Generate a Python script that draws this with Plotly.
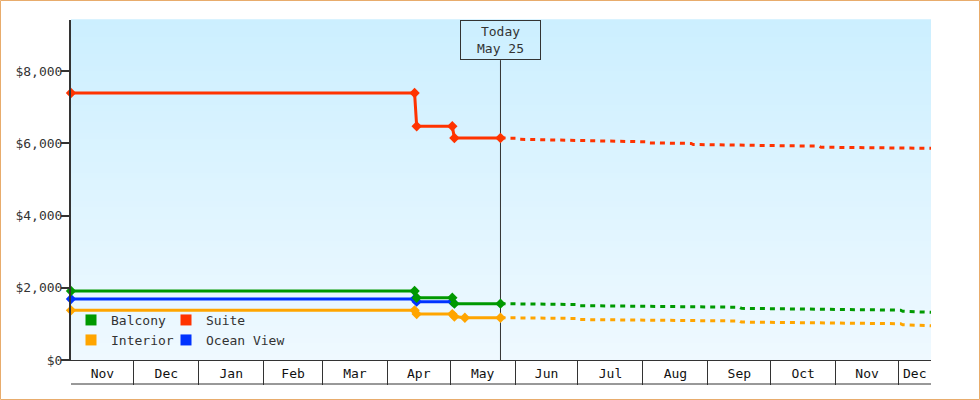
import pandas as pd
import plotly.graph_objects as go

# ---------------- data ----------------
months = ["Nov", "Dec", "Jan", "Feb", "Mar", "Apr", "May",
          "Jun", "Jul", "Aug", "Sep", "Oct", "Nov", "Dec"]
month_starts = ["2024-11-01", "2024-12-01", "2025-01-01", "2025-02-01",
                "2025-03-01", "2025-04-01", "2025-05-01", "2025-06-01",
                "2025-07-01", "2025-08-01", "2025-09-01", "2025-10-01",
                "2025-11-01", "2025-12-01"]
x_start = "2024-11-01"
x_end = "2025-12-16 12:00"
today = "2025-05-25"

y_ticks = [0, 2000, 4000, 6000, 8000]
y_tick_labels = ["$0", "$2,000", "$4,000", "$6,000", "$8,000"]

balcony_dates = ["2024-11-01", "2025-04-14", "2025-04-15", "2025-05-02", "2025-05-03", "2025-05-25"]
balcony_vals = [1910, 1910, 1725, 1725, 1560, 1560]
balcony_fc_dates = ["2025-05-25", "2025-07-01", "2025-07-02", "2025-09-16", "2025-09-17",
                    "2025-12-02", "2025-12-03", "2025-12-16 12:00"]
balcony_fc_vals = [1560, 1535, 1505, 1460, 1430, 1380, 1350, 1320]

suite_dates = ["2024-11-01", "2025-04-14", "2025-04-15", "2025-05-02", "2025-05-03", "2025-05-25"]
suite_vals = [7390, 7390, 6470, 6470, 6145, 6145]
suite_fc_dates = ["2025-05-25", "2025-06-02", "2025-06-03", "2025-08-03", "2025-08-04",
                  "2025-08-24", "2025-08-25", "2025-10-24", "2025-10-25", "2025-12-16 12:00"]
suite_fc_vals = [6145, 6140, 6110, 6040, 6010, 5995, 5965, 5920, 5890, 5860]

interior_dates = ["2024-11-01", "2025-04-14", "2025-04-15", "2025-05-02", "2025-05-03",
                  "2025-05-08", "2025-05-25"]
interior_vals = [1375, 1375, 1270, 1270, 1205, 1170, 1170]
interior_fc_dates = ["2025-05-25", "2025-07-01", "2025-07-02", "2025-09-16", "2025-09-17",
                     "2025-12-02", "2025-12-03", "2025-12-16 12:00"]
interior_fc_vals = [1170, 1150, 1120, 1080, 1050, 1005, 975, 950]

ocean_dates = ["2024-11-01", "2025-04-14", "2025-04-15", "2025-05-02"]
ocean_vals = [1690, 1690, 1615, 1615]

GREEN = "#009900"
RED = "#ff3300"
ORANGE = "#ffa500"
BLUE = "#0033ff"
INK = "#333333"
FONT = "DejaVu Sans Mono"

# ---------------- figure ----------------
fig = go.Figure()


def hist(dates, vals, color, name):
    fig.add_trace(go.Scatter(
        x=dates, y=vals, mode="lines+markers", name=name, showlegend=False,
        line=dict(color=color, width=3), cliponaxis=False,
        marker=dict(symbol="diamond", size=8, color=color),
        hoverinfo="x+y"))


def fc(dates, vals, color, name):
    fig.add_trace(go.Scatter(
        x=dates, y=vals, mode="lines", name=name + " forecast", showlegend=False,
        line=dict(color=color, width=3, dash="5px,5px"), hoverinfo="x+y"))


fc(suite_fc_dates, suite_fc_vals, RED, "Suite")
fc(balcony_fc_dates, balcony_fc_vals, GREEN, "Balcony")
fc(interior_fc_dates, interior_fc_vals, ORANGE, "Interior")
hist(suite_dates, suite_vals, RED, "Suite")
hist(interior_dates, interior_vals, ORANGE, "Interior")
hist(ocean_dates, ocean_vals, BLUE, "Ocean View")
hist(balcony_dates, balcony_vals, GREEN, "Balcony")

# legend entries (square swatches), one legend per entry for a 2x2 grid
legend_items = [("Balcony", GREEN, "legend"), ("Suite", RED, "legend2"),
                ("Interior", ORANGE, "legend3"), ("Ocean View", BLUE, "legend4")]
for name, color, lg in legend_items:
    fig.add_trace(go.Scatter(
        x=[None], y=[None], mode="markers", name=name, legend=lg,
        marker=dict(symbol="square", size=11, color=color)))

# background gradient bands
top = (204, 239, 255)
bot = (239, 249, 255)
n = 60
shapes = []
for i in range(n):
    t = (i + 0.5) / n
    c = tuple(round(bot[k] + (top[k] - bot[k]) * t) for k in range(3))
    shapes.append(dict(type="rect", xref="paper", yref="paper", x0=0, x1=1,
                       y0=i / n, y1=(i + 1) / n + 0.002, layer="below",
                       line=dict(width=0), fillcolor="rgb(%d,%d,%d)" % c))

# today line
shapes.append(dict(type="line", xref="x", yref="paper", x0=today, x1=today,
                   y0=0, y1=0.882, layer="below", line=dict(color=INK, width=1)))
# bottom line of the month band
shapes.append(dict(type="line", xref="paper", yref="paper", x0=0, x1=1,
                   y0=-0.0706, y1=-0.0706, line=dict(color=INK, width=1)))
# outer border
shapes.append(dict(type="rect", xref="paper", yref="paper",
                   x0=(0.5 - 71) / 860, x1=(979.5 - 71) / 860,
                   y0=(360 - 399.5) / 340, y1=(360 - 0.5) / 340,
                   line=dict(color="#e8ac6c", width=1), fillcolor="rgba(0,0,0,0)"))

# month label positions (middle of each visible month)
bounds = [pd.Timestamp(d) for d in month_starts] + [pd.Timestamp(x_end)]
mids = [(bounds[i] + (bounds[i + 1] - bounds[i]) / 2).strftime("%Y-%m-%d %H:%M")
        for i in range(len(month_starts))]

legend_style = dict(xanchor="left", yanchor="middle", orientation="h",
                    bgcolor="rgba(0,0,0,0)", itemclick=False, itemdoubleclick=False,
                    font=dict(family=FONT, size=13, color=INK))
row1 = (360 - 320) / 340
row2 = (360 - 340) / 340
col1 = (71 - 71) / 860
col2 = (166 - 71) / 860

fig.update_layout(
    width=980, height=400,
    margin=dict(l=71, r=49, t=20, b=40),
    paper_bgcolor="white",
    plot_bgcolor="rgb(239,249,255)",
    font=dict(family=FONT, size=13, color=INK),
    shapes=shapes,
    xaxis=dict(
        type="date", range=[x_start, x_end],
        tickmode="array", tickvals=mids, ticktext=months, ticks="",
        ticklabelstandoff=1,
        showline=True, linecolor=INK, linewidth=1,
        showgrid=False, zeroline=False,
        minor=dict(tickmode="array", tickvals=month_starts[1:], ticks="outside",
                   ticklen=24, tickwidth=1, tickcolor=INK, showgrid=False),
        tickfont=dict(family=FONT, size=13, color="#111"),
    ),
    yaxis=dict(
        range=[0, 9412], tickmode="array", tickvals=y_ticks, ticktext=y_tick_labels,
        ticks="outside", ticklen=8, tickwidth=2, tickcolor=INK,
        ticklabelstandoff=-4,
        showline=True, linecolor=INK, linewidth=2,
        showgrid=False, zeroline=False,
        tickfont=dict(family=FONT, size=13, color=INK),
    ),
    legend=dict(x=col1, y=row1, **legend_style),
    legend2=dict(x=col2, y=row1, **legend_style),
    legend3=dict(x=col1, y=row2, **legend_style),
    legend4=dict(x=col2, y=row2, **legend_style),
    annotations=[dict(
        x=today, y=1, xref="x", yref="paper", xanchor="center", yanchor="top",
        text="Today<br>May 25", showarrow=False, width=79, height=38,
        bordercolor=INK, borderwidth=1, borderpad=0,
        font=dict(family=FONT, size=13, color=INK))],
)

fig.write_html("out.html", config={"displayModeBar": False},
               post_script="document.body.style.margin='0';")
